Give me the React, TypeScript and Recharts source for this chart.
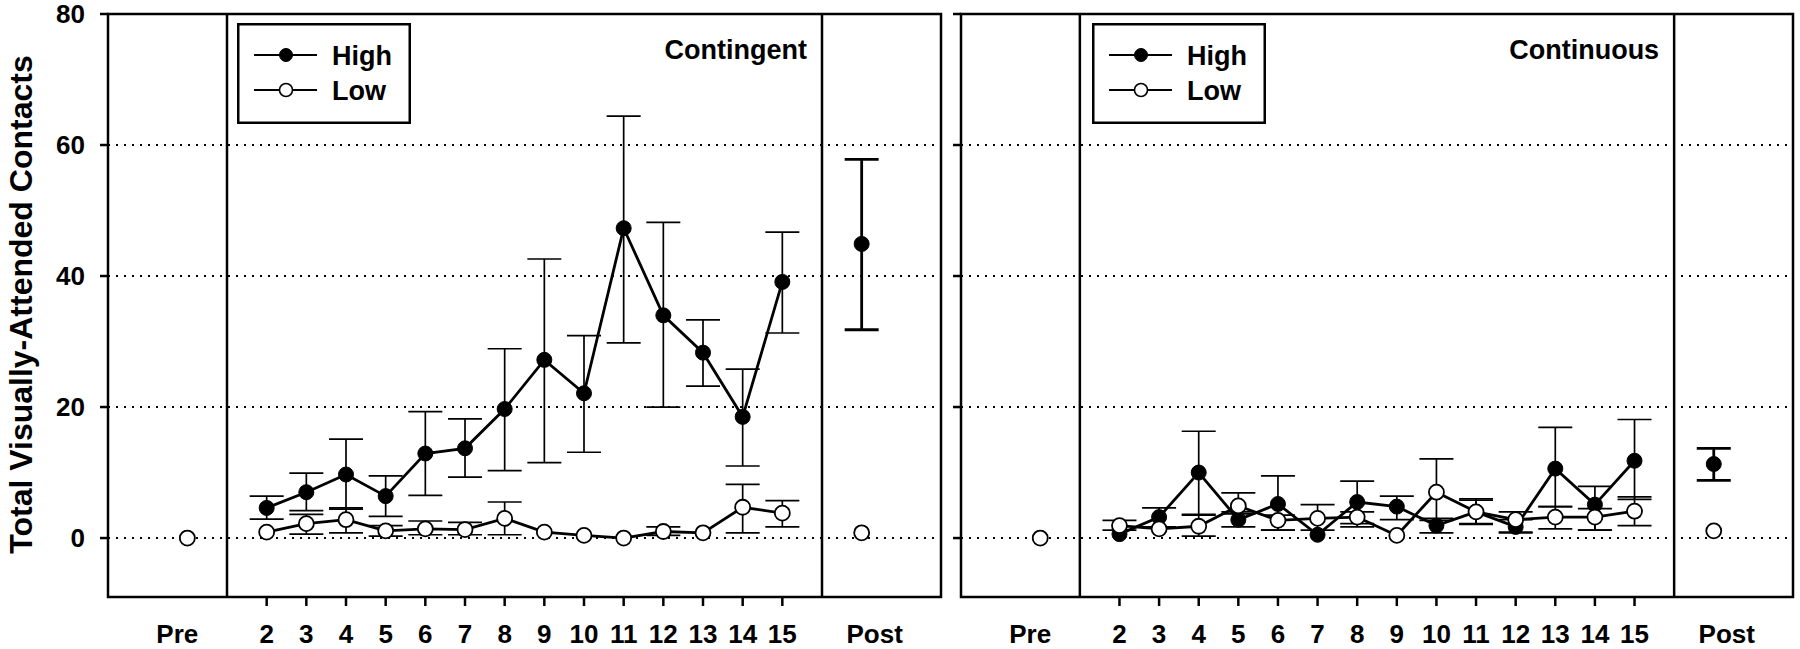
import React from 'react';
import {
  ComposedChart,
  Line,
  XAxis,
  YAxis,
  CartesianGrid,
  ErrorBar,
  ReferenceLine,
  ReferenceArea,
  Legend,
  Label,
} from 'recharts';

const FONT = '"Liberation Sans", Arial, Helvetica, sans-serif';

// ---------- axes / categories ----------
const sessions = [2, 3, 4, 5, 6, 7, 8, 9, 10, 11, 12, 13, 14, 15];
const endPositions = [0, 17]; // Pre, Post
const endLabels = ['Pre', 'Post'];
const xTicks = [0, 2, 3, 4, 5, 6, 7, 8, 9, 10, 11, 12, 13, 14, 15, 17];
const xDomain = [-2, 19];
const phaseDividers = [1, 16];
const yTicks = [0, 20, 40, 60, 80];
const yDomain = [-9, 80];
const yTitle = 'Total Visually-Attended Contacts';
const seriesNames = ['High', 'Low'];
const panelTitles = ['Contingent', 'Continuous'];

// ---------- Contingent panel ----------
const contingentHigh = [4.6, 7.0, 9.7, 6.4, 12.9, 13.7, 19.7, 27.2, 22.1, 47.3, 34.0, 28.3, 18.5, 39.1];
const contingentHighLower = [2.9, 4.2, 4.6, 3.3, 6.5, 9.3, 10.3, 11.5, 13.1, 29.8, 20.0, 23.2, 11.0, 31.3];
const contingentHighUpper = [6.4, 9.9, 15.1, 9.5, 19.3, 18.2, 28.9, 42.6, 30.9, 64.4, 48.2, 33.3, 25.8, 46.7];
const contingentLow = [0.9, 2.2, 2.8, 1.1, 1.4, 1.3, 3.0, 0.9, 0.4, 0.0, 1.0, 0.8, 4.7, 3.8];
const contingentLowLower = [0.9, 0.6, 0.8, 0.3, 0.5, 0.5, 0.5, 0.9, 0.4, 0.0, 0.4, 0.8, 0.8, 1.7];
const contingentLowUpper = [0.9, 3.6, 4.4, 1.9, 2.6, 2.4, 5.5, 0.9, 0.4, 0.0, 1.7, 0.8, 8.2, 5.7];
const contingentHighEnds = [0, 44.9];
const contingentHighEndsLower = [0, 31.8];
const contingentHighEndsUpper = [0, 57.8];
const contingentLowEnds = [0, 0.8];
const contingentLowEndsLower = [0, 0.8];
const contingentLowEndsUpper = [0, 0.8];

// ---------- Continuous panel ----------
const continuousHigh = [0.6, 3.2, 10.0, 2.8, 5.2, 0.5, 5.5, 4.8, 1.9, 4.0, 1.7, 10.6, 5.1, 11.8];
const continuousHighLower = [0.6, 1.7, 3.6, 1.7, 1.2, 0.5, 2.2, 2.8, 0.8, 2.2, 0.8, 4.8, 1.2, 5.9];
const continuousHighUpper = [0.6, 4.6, 16.3, 4.0, 9.5, 0.5, 8.7, 6.4, 3.0, 5.8, 2.8, 16.9, 7.9, 18.1];
const continuousLow = [1.9, 1.4, 1.8, 4.9, 2.7, 3.0, 3.2, 0.4, 7.0, 4.0, 2.8, 3.2, 3.2, 4.1];
const continuousLowLower = [1.2, 1.4, 0.3, 3.7, 1.2, 1.2, 1.7, 0.4, 2.7, 2.1, 0.9, 1.4, 1.2, 1.9];
const continuousLowUpper = [2.7, 1.4, 3.5, 6.9, 3.5, 5.1, 4.0, 0.4, 12.1, 6.0, 4.0, 4.8, 4.5, 6.3];
const continuousHighEnds = [0, 11.3];
const continuousHighEndsLower = [0, 8.8];
const continuousHighEndsUpper = [0, 13.7];
const continuousLowEnds = [0, 1.1];
const continuousLowEndsLower = [0, 1.1];
const continuousLowEndsUpper = [0, 1.1];

const err = (v: number, lo: number, hi: number) =>
  hi - lo > 0.05 ? [v - lo, hi - v] : undefined;

function buildRows(
  high: number[], highLo: number[], highHi: number[],
  low: number[], lowLo: number[], lowHi: number[],
  highEnds: number[], highEndsLo: number[], highEndsHi: number[],
  lowEnds: number[], lowEndsLo: number[], lowEndsHi: number[],
) {
  const rows: any[] = [];
  rows.push({
    x: endPositions[0],
    highEnd: highEnds[0], highEndErr: err(highEnds[0], highEndsLo[0], highEndsHi[0]),
    lowEnd: lowEnds[0], lowEndErr: err(lowEnds[0], lowEndsLo[0], lowEndsHi[0]),
  });
  sessions.forEach((s, i) => {
    rows.push({
      x: s,
      high: high[i], highErr: err(high[i], highLo[i], highHi[i]),
      low: low[i], lowErr: err(low[i], lowLo[i], lowHi[i]),
    });
  });
  rows.push({
    x: endPositions[1],
    highEnd: highEnds[1], highEndErr: err(highEnds[1], highEndsLo[1], highEndsHi[1]),
    lowEnd: lowEnds[1], lowEndErr: err(lowEnds[1], lowEndsLo[1], lowEndsHi[1]),
  });
  return rows;
}

const contingentRows = buildRows(
  contingentHigh, contingentHighLower, contingentHighUpper,
  contingentLow, contingentLowLower, contingentLowUpper,
  contingentHighEnds, contingentHighEndsLower, contingentHighEndsUpper,
  contingentLowEnds, contingentLowEndsLower, contingentLowEndsUpper,
);
const continuousRows = buildRows(
  continuousHigh, continuousHighLower, continuousHighUpper,
  continuousLow, continuousLowLower, continuousLowUpper,
  continuousHighEnds, continuousHighEndsLower, continuousHighEndsUpper,
  continuousLowEnds, continuousLowEndsLower, continuousLowEndsUpper,
);

// ---------- renderers ----------
const XTick = (props: any) => {
  const { x, y, payload } = props;
  const v = payload.value;
  const idx = endPositions.indexOf(v);
  const label = idx >= 0 ? endLabels[idx] : String(v);
  const dx = idx === 0 ? -10 : idx === 1 ? 13 : 0;
  return (
    <g>
      {idx < 0 && (
        <line x1={x} x2={x} y1={y} y2={y + 9} stroke="#000" strokeWidth={2.5} />
      )}
      <text
        x={x + dx}
        y={y + 46}
        textAnchor="middle"
        fontFamily={FONT}
        fontWeight={700}
        fontSize={26}
        fill="#000"
      >
        {label}
      </text>
    </g>
  );
};

const EmptyTick = () => <g />;

const YTitle = (props: any) => {
  const vb = props.viewBox || { x: 0, y: 14, width: 108, height: 583 };
  const cx = vb.x + 32;
  const cy = vb.y + vb.height / 2 - 1;
  return (
    <text
      x={cx}
      y={cy}
      transform={`rotate(-90, ${cx}, ${cy})`}
      textAnchor="middle"
      fontFamily={FONT}
      fontWeight={700}
      fontSize={32}
      fill="#000"
    >
      {yTitle}
    </text>
  );
};

const makePanelTitle = (title: string) => (props: any) => {
  const vb = props.viewBox || { x: 0, y: 0 };
  return (
    <text
      x={vb.x - 15}
      y={vb.y + 45}
      textAnchor="end"
      fontFamily={FONT}
      fontWeight={700}
      fontSize={27}
      fill="#000"
    >
      {title}
    </text>
  );
};

const LegendBox = () => (
  <svg width={174} height={101} style={{ display: 'block' }}>
    <rect x={1.25} y={1.25} width={171.5} height={98.5} fill="#fff" stroke="#000" strokeWidth={2.5} />
    <line x1={17} x2={80} y1={32} y2={32} stroke="#000" strokeWidth={2.2} />
    <circle cx={49} cy={32} r={6.5} fill="#000" stroke="#000" />
    <text x={95} y={42} fontFamily={FONT} fontWeight={700} fontSize={27} fill="#000">
      {seriesNames[0]}
    </text>
    <line x1={17} x2={80} y1={67} y2={67} stroke="#000" strokeWidth={2.2} />
    <circle cx={49} cy={67} r={6.5} fill="#fff" stroke="#000" strokeWidth={1.6} />
    <text x={95} y={77} fontFamily={FONT} fontWeight={700} fontSize={27} fill="#000">
      {seriesNames[1]}
    </text>
  </svg>
);

const highDot = { r: 7.5, fill: '#000', stroke: '#000', strokeWidth: 1 };
const lowDot = { r: 7.5, fill: '#fff', stroke: '#000', strokeWidth: 1.8 };

function Panel(props: {
  rows: any[];
  title: string;
  width: number;
  left: number;
  yAxisWidth: number;
  marginRight: number;
  legendLeft: number;
  showYLabels: boolean;
}) {
  const { rows, title, width, left, yAxisWidth, marginRight, legendLeft, showYLabels } = props;
  return (
    <div style={{ position: 'absolute', left, top: 0, width, height: 649 }}>
      <ComposedChart
        width={width}
        height={649}
        data={rows}
        margin={{ top: 14, right: marginRight, bottom: 0, left: 0 }}
        style={{ fontFamily: FONT }}
      >
        <CartesianGrid
          vertical={false}
          stroke="#000"
          strokeWidth={2}
          strokeDasharray="2 6"
        />
        <XAxis
          dataKey="x"
          type="number"
          domain={xDomain}
          ticks={xTicks}
          interval={0}
          allowDataOverflow
          axisLine={false}
          tickLine={false}
          tickSize={0}
          tickMargin={0}
          height={52}
          tick={<XTick />}
        />
        <YAxis
          type="number"
          domain={yDomain}
          ticks={yTicks}
          interval={0}
          allowDataOverflow
          width={yAxisWidth}
          axisLine={false}
          tickLine={{ stroke: '#000', strokeWidth: 2.5 }}
          tickSize={8}
          tickMargin={15}
          tick={
            showYLabels
              ? { fontSize: 26, fontWeight: 700, fill: '#000', fontFamily: FONT }
              : EmptyTick
          }
        >
          {showYLabels && <Label content={YTitle} />}
        </YAxis>
        <ReferenceArea
          x1={xDomain[0]}
          x2={xDomain[1]}
          y1={yDomain[0]}
          y2={yDomain[1]}
          fill="none"
          fillOpacity={0}
          stroke="#000"
          strokeWidth={2.5}
          ifOverflow="visible"
        />
        <ReferenceLine x={phaseDividers[0]} stroke="#000" strokeWidth={2.5} />
        <ReferenceLine
          x={phaseDividers[1]}
          stroke="#000"
          strokeWidth={2.5}
          label={<Label content={makePanelTitle(title)} />}
        />
        <Line
          dataKey="high"
          stroke="#000"
          strokeWidth={2.8}
          dot={highDot}
          activeDot={false}
          isAnimationActive={false}
          connectNulls={false}
        >
          <ErrorBar dataKey="highErr" width={17} stroke="#000" strokeWidth={1.7} direction="y" />
        </Line>
        <Line
          dataKey="highEnd"
          stroke="none"
          strokeWidth={0}
          dot={highDot}
          activeDot={false}
          isAnimationActive={false}
          connectNulls={false}
        >
          <ErrorBar dataKey="highEndErr" width={17} stroke="#000" strokeWidth={2.8} direction="y" />
        </Line>
        <Line
          dataKey="low"
          stroke="#000"
          strokeWidth={2.8}
          dot={lowDot}
          activeDot={false}
          isAnimationActive={false}
          connectNulls={false}
        >
          <ErrorBar dataKey="lowErr" width={17} stroke="#000" strokeWidth={1.7} direction="y" />
        </Line>
        <Line
          dataKey="lowEnd"
          stroke="none"
          strokeWidth={0}
          dot={lowDot}
          activeDot={false}
          isAnimationActive={false}
          connectNulls={false}
        >
          <ErrorBar dataKey="lowEndErr" width={17} stroke="#000" strokeWidth={2.8} direction="y" />
        </Line>
        <Legend
          layout="vertical"
          align="center"
          verticalAlign="middle"
          content={LegendBox}
          wrapperStyle={{ left: legendLeft, top: 23, width: 174, height: 101, margin: 0, padding: 0 }}
        />
      </ComposedChart>
    </div>
  );
}

export default function App() {
  return (
    <div
      style={{
        position: 'absolute',
        left: 0,
        top: 0,
        width: 1800,
        height: 649,
        background: '#fff',
        overflow: 'hidden',
      }}
    >
      <Panel
        rows={contingentRows}
        title={panelTitles[0]}
        width={960}
        left={0}
        yAxisWidth={108}
        marginRight={19}
        legendLeft={237}
        showYLabels
      />
      <Panel
        rows={continuousRows}
        title={panelTitles[1]}
        width={900}
        left={900}
        yAxisWidth={61}
        marginRight={7}
        legendLeft={192}
        showYLabels={false}
      />
    </div>
  );
}
